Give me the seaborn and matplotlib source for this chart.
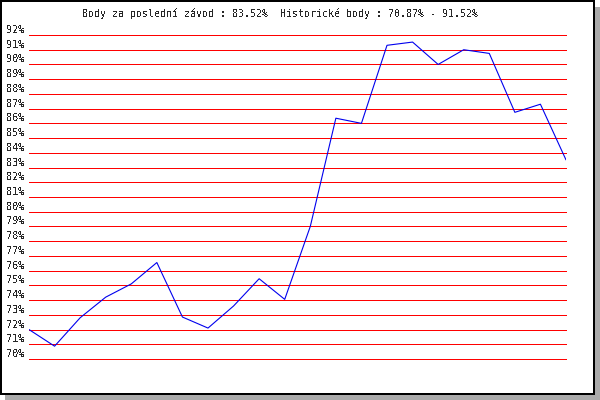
import matplotlib
matplotlib.use("Agg")
import matplotlib.pyplot as plt
from matplotlib.patches import Rectangle
import matplotlib.transforms as mtransforms
import seaborn as sns
import pandas as pd

races = list(range(22))
points = [72.0, 70.87, 72.8, 74.2, 75.1, 76.55, 72.85, 72.1, 73.6, 75.45, 74.05,
          79.0, 86.35, 86.0, 91.3, 91.52, 90.0, 91.0, 90.75, 86.75, 87.3, 83.52]
tick_values = list(range(70, 93))
tick_labels = [f"{v}%" for v in tick_values]
title = "Body za poslední závod : 83.52%  Historické body : 70.87% - 91.52%"

sns.set_style("white")
plt.rcParams['font.family'] = ['DejaVu Sans Mono', 'DejaVu Sans']
plt.rcParams['text.antialiased'] = False

W, H = 600, 400
fig = plt.figure(figsize=(6, 4), dpi=100)
fig.patch.set_facecolor("white")

# shadow + frame
fig.add_artist(Rectangle((5 / W, 0), 595 / W, 5 / H, transform=fig.transFigure,
                         facecolor="#aaaaaa", edgecolor="none", zorder=-10))
fig.add_artist(Rectangle((595 / W, 0), 5 / W, 393 / H, transform=fig.transFigure,
                         facecolor="#aaaaaa", edgecolor="none", zorder=-10))
fig.add_artist(Rectangle((0, 5 / H), 595 / W, 395 / H, transform=fig.transFigure,
                         facecolor="black", edgecolor="none", zorder=-9))
fig.add_artist(Rectangle((2 / W, 7 / H), 591 / W, 391 / H, transform=fig.transFigure,
                         facecolor="white", edgecolor="none", zorder=-8))

left, right, top, bottom = 29, 566, 35, 359
ax = fig.add_axes([left / W, 1 - bottom / H, (right - left) / W, (bottom - top) / H])
ax.set_facecolor("none")

df = pd.DataFrame({"race": races, "points": points})
sns.lineplot(data=df, x="race", y="points", ax=ax, color="#0000ee", zorder=3)
data_line = ax.get_lines()[-1]
data_line.set_linewidth(0.8)

for v in tick_values:
    ax.axhline(v, color="#ff0000", linewidth=0.72, zorder=1, clip_on=False, antialiased=False)

ax.set_xlim(0, 21)
ax.set_ylim(70, 92)
ax.set_xticks([])
ax.set_yticks(tick_values)
ax.set_yticklabels(tick_labels, fontsize=7.4)
ax.tick_params(axis="y", length=0, pad=3)
offset = mtransforms.ScaledTranslation(0, 6 / 100, fig.dpi_scale_trans)
for lab in ax.get_yticklabels():
    lab.set_transform(lab.get_transform() + offset)
ax.set_xlabel("")
ax.set_ylabel("")
for s in ax.spines.values():
    s.set_visible(False)

fig.text(280.5 / W, 1 - 14 / H, title, ha="center", va="center", fontsize=7.2)

fig.savefig("out.png", dpi=100)
